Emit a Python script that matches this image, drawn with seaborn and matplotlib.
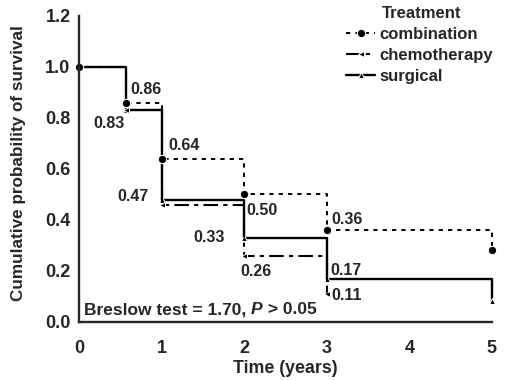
import pandas as pd
import matplotlib
matplotlib.use("Agg")
import matplotlib.pyplot as plt
import seaborn as sns

# Kaplan-Meier style survival estimates
times_combination = [0, 0.57, 1, 2, 3, 5]
surv_combination = [1.0, 0.86, 0.64, 0.50, 0.36, 0.28]
times_chemo = [0, 0.57, 1, 2, 3]
surv_chemo = [1.0, 0.83, 0.46, 0.26, 0.11]
times_surgical = [0, 0.57, 1, 2, 3, 5]
surv_surgical = [1.0, 0.83, 0.48, 0.33, 0.17, 0.08]

x_ticks = [0, 1, 2, 3, 4, 5]
y_ticks = [0.0, 0.2, 0.4, 0.6, 0.8, 1.0, 1.2]

# value labels: (text, x, y, horizontal alignment)
labels = [("0.86", 0.62, 0.91, "left"), ("0.83", 0.55, 0.78, "right"),
          ("0.64", 1.08, 0.69, "left"), ("0.47", 0.84, 0.49, "right"),
          ("0.50", 2.03, 0.435, "left"), ("0.33", 1.77, 0.33, "right"),
          ("0.26", 1.96, 0.196, "left"), ("0.36", 3.06, 0.40, "left"),
          ("0.17", 3.04, 0.20, "left"), ("0.11", 3.06, 0.105, "left")]

sns.set_style("ticks")
plt.rcParams['font.family'] = ['Liberation Sans', 'DejaVu Sans']
plt.rcParams['font.weight'] = 'bold'

df_comb = pd.DataFrame({'t': times_combination, 's': surv_combination})
df_chemo = pd.DataFrame({'t': times_chemo, 's': surv_chemo})
df_surg = pd.DataFrame({'t': times_surgical, 's': surv_surgical})

fig = plt.figure(figsize=(5.06, 3.8), dpi=100)
ax = fig.add_axes([0.156, 0.153, 0.816, 0.805])

sns.lineplot(x='t', y='s', data=df_surg, ax=ax, color='black', lw=1.7,
             drawstyle='steps-post', marker='^', markersize=4.5, label='surgical', clip_on=False)
sns.lineplot(x='t', y='s', data=df_chemo, ax=ax, color='black', lw=1.5,
             drawstyle='steps-post', linestyle=(0, (7, 2.5, 2, 2.5)), marker='<',
             markersize=4, label='chemotherapy', clip_on=False)
sns.lineplot(x='t', y='s', data=df_comb, ax=ax, color='black', lw=1.4,
             drawstyle='steps-post', linestyle=(0, (2.2, 2.6)), marker='o',
             markersize=6, label='combination', clip_on=False)

for txt, x, y, ha in labels:
    ax.text(x, y, txt, ha=ha, va='center', fontsize=11.5, fontweight='bold')
ax.text(2.995, 0.125, "\u2193", ha='center', va='center', fontsize=9)

# Breslow test note, with italic P
t1 = ax.text(0.06, 0.03, "Breslow test = 1.70, ", fontsize=12.5, fontweight='bold', va='baseline')
t2 = ax.annotate("P", xy=(1, 0), xycoords=t1, fontsize=12.5, fontweight='bold',
                 fontstyle='italic', va='bottom')
ax.annotate(" > 0.05", xy=(1, 0), xycoords=t2, fontsize=12.5, fontweight='bold', va='bottom')

ax.set_xlim(0, 5)
ax.set_ylim(0, 1.2)
ax.set_xticks(x_ticks)
ax.set_yticks(y_ticks)
ax.set_yticklabels([f"{v:.1f}" for v in y_ticks])
ax.tick_params(axis='x', length=0, pad=13, labelsize=13)
ax.tick_params(axis='y', length=0, pad=6, labelsize=13)
for lab in ax.get_xticklabels() + ax.get_yticklabels():
    lab.set_fontweight('bold')
ax.set_xlabel("Time (years)", fontsize=12.8, fontweight='bold', labelpad=2)
ax.set_ylabel("Cumulative probability of survival", fontsize=12.3, fontweight='bold')
ax.yaxis.set_label_coords(-0.128, 0.52)
sns.despine(ax=ax)
for sp in ['left', 'bottom']:
    ax.spines[sp].set_linewidth(1.7)

h, l = ax.get_legend_handles_labels()
order = [2, 1, 0]
leg = ax.legend([h[i] for i in order], [l[i] for i in order],
                loc='upper right', bbox_to_anchor=(1.02, 0.985), frameon=False,
                fontsize=12, handlelength=1.7, handletextpad=0.3,
                labelspacing=0.35, borderaxespad=0)

# legend heading sits over the label text, not the handles
fig.canvas.draw()
bb = leg.get_texts()[0].get_window_extent().transformed(fig.transFigure.inverted())
fig.text(bb.x0 + 0.005, bb.y1 + 0.0165, "Treatment", fontsize=12, fontweight='bold',
         ha='left', va='bottom')

fig.savefig("out.png", dpi=100)
